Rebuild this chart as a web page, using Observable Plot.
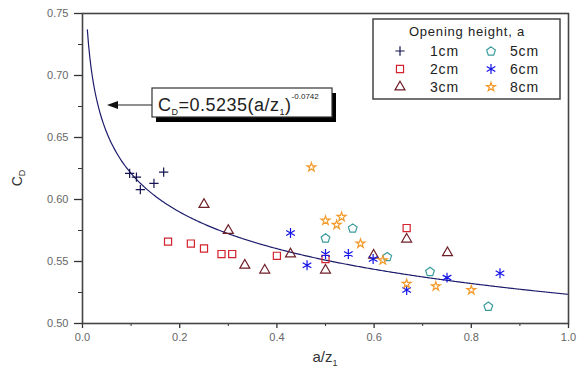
<!DOCTYPE html>
<html><head><meta charset="utf-8">
<script src="https://cdn.jsdelivr.net/npm/d3@7"></script>
<script src="https://cdn.jsdelivr.net/npm/@observablehq/plot@0.6"></script>
<style>
body{margin:0;background:#fff;}
#chart{position:relative;width:582px;height:373px;}
</style></head><body><div id="chart"></div>
<script>
// ---- data ----
const seriesNames = ["1cm", "2cm", "3cm", "5cm", "6cm", "8cm"];
const x1cm = [0.097, 0.111, 0.119, 0.147, 0.167];
const y1cm = [0.621, 0.618, 0.608, 0.613, 0.622];
const x2cm = [0.176, 0.223, 0.250, 0.286, 0.308, 0.400, 0.500, 0.667];
const y2cm = [0.566, 0.5645, 0.5605, 0.556, 0.556, 0.5546, 0.552, 0.577];
const x3cm = [0.250, 0.300, 0.334, 0.375, 0.428, 0.500, 0.599, 0.667, 0.751];
const y3cm = [0.596, 0.575, 0.547, 0.543, 0.556, 0.543, 0.555, 0.568, 0.557];
const x5cm = [0.500, 0.556, 0.627, 0.715, 0.835];
const y5cm = [0.569, 0.577, 0.554, 0.542, 0.514];
const x6cm = [0.428, 0.462, 0.500, 0.547, 0.598, 0.667, 0.750, 0.859];
const y6cm = [0.573, 0.547, 0.556, 0.556, 0.552, 0.527, 0.537, 0.5406];
const x8cm = [0.471, 0.500, 0.523, 0.533, 0.572, 0.618, 0.667, 0.727, 0.800];
const y8cm = [0.626, 0.583, 0.5796, 0.586, 0.5645, 0.551, 0.532, 0.530, 0.527];
// fitted curve printed on the chart: C_D = 0.5235 (a/z1)^-0.0742
const fitCoef = 0.5235, fitExp = -0.0742, fitStart = 0.01, fitEnd = 1.0;
const xTicksMajor = [0, 0.2, 0.4, 0.6, 0.8, 1.0];
const xTicksMinor = [0.1, 0.3, 0.5, 0.7, 0.9];
const yTicksMajor = [0.50, 0.55, 0.60, 0.65, 0.70, 0.75];
const yTicksMinor = [0.525, 0.575, 0.625, 0.675, 0.725];
const legendTitle = "Opening height, a";

// ---- build ----
const pentagon = {
  draw(context, size) {
    const r = Math.sqrt(size / 2.378);
    for (let i = 0; i < 5; i++) {
      const a = -Math.PI / 2 + i * 2 * Math.PI / 5;
      const px = r * Math.cos(a), py = r * Math.sin(a) + r * 0.1;
      if (i === 0) context.moveTo(px, py); else context.lineTo(px, py);
    }
    context.closePath();
  }
};
const styles = {
  "1cm": {symbol: "plus", color: "#141450", r: 3.1},
  "2cm": {symbol: "square", color: "#d2232e", r: 4},
  "3cm": {symbol: "triangle", color: "#6e1f28", r: 3.7},
  "5cm": {symbol: pentagon, color: "#3a9c9a", r: 4},
  "6cm": {symbol: "asterisk", color: "#1414e6", r: 4.7},
  "8cm": {symbol: "star", color: "#f39a2a", r: 2.8}
};
const xs = {"1cm": x1cm, "2cm": x2cm, "3cm": x3cm, "5cm": x5cm, "6cm": x6cm, "8cm": x8cm};
const ys = {"1cm": y1cm, "2cm": y2cm, "3cm": y3cm, "5cm": y5cm, "6cm": y6cm, "8cm": y8cm};
const points = seriesNames.flatMap(s => xs[s].map((x, i) => ({series: s, x, y: ys[s][i]})));
const fit = d3.range(fitStart, fitEnd + 1e-9, 0.0025).map(x => ({x, y: fitCoef * Math.pow(x, fitExp)}));

const font = "'Liberation Sans', Arial, sans-serif";
const plot = Plot.plot({
  width: 582, height: 373,
  marginLeft: 82, marginRight: 14, marginTop: 13, marginBottom: 50,
  x: {domain: [0, 1]},
  y: {domain: [0.5, 0.75]},
  style: {fontFamily: font, background: "#fff"},
  marks: [
    Plot.axisX(xTicksMajor, {tickSize: 5, tickPadding: 5, tickFormat: d => d.toFixed(1), fontSize: 11, fill: "#666", stroke: "#333", strokeWidth: 1.3, label: null}),
    Plot.axisX(xTicksMinor, {tickSize: 3, tickFormat: () => "", stroke: "#333", label: null}),
    Plot.axisY(yTicksMajor, {tickSize: 8, tickPadding: 6, tickFormat: d => d.toFixed(2), fontSize: 11, fill: "#666", stroke: "#333", strokeWidth: 1.3, label: null}),
    Plot.axisY(yTicksMinor, {tickSize: 4, tickFormat: () => "", stroke: "#333", label: null}),
    Plot.line(fit, {x: "x", y: "y", stroke: "#1c1c6c", strokeWidth: 1.2}),
    ...seriesNames.map(s => Plot.dot(points.filter(p => p.series === s), {
      x: "x", y: "y", symbol: styles[s].symbol, r: styles[s].r,
      stroke: styles[s].color, fill: "none", strokeWidth: 1.2
    })),
    Plot.frame({stroke: "#444", strokeWidth: 1.6})
  ]
});
document.getElementById("chart").appendChild(plot);

const svg = d3.select(plot);
const sx = plot.scale("x"), sy = plot.scale("y");

// axis titles
const yl = svg.append("text").attr("transform", "translate(22,178) rotate(-90)")
  .attr("font-family", font).attr("font-size", 14).attr("fill", "#333").attr("text-anchor", "middle");
yl.append("tspan").text("C");
yl.append("tspan").attr("font-size", 9).attr("dy", 3).text("D");
const xl = svg.append("text").attr("x", (sx.range[0] + sx.range[1]) / 2).attr("y", 362)
  .attr("font-family", font).attr("font-size", 15).attr("fill", "#333").attr("text-anchor", "middle");
xl.append("tspan").text("a/z");
xl.append("tspan").attr("font-size", 9).attr("dy", 4).text("1");

// annotation box with arrow
const ann = svg.append("g").attr("text-anchor", "start");
ann.append("rect").attr("x", 156).attr("y", 93).attr("width", 180).attr("height", 29).attr("fill", "#000");
ann.append("rect").attr("x", 152).attr("y", 88).attr("width", 180).attr("height", 29).attr("fill", "#fff").attr("stroke", "#333").attr("stroke-width", 1.2);
ann.append("line").attr("x1", 152).attr("x2", 116).attr("y1", 105).attr("y2", 105).attr("stroke", "#222").attr("stroke-width", 1.2);
ann.append("path").attr("d", "M107,105 L118,101 L118,109 Z").attr("fill", "#111");
const at = ann.append("text").attr("x", 158).attr("y", 111).attr("font-family", font).attr("text-anchor", "start")
  .attr("font-size", 18).attr("letter-spacing", 0.5).attr("fill", "#222");
at.append("tspan").text("C");
at.append("tspan").attr("font-size", 9).attr("dy", 4).text("D");
at.append("tspan").attr("dy", -4).text("=0.5235(a/z");
at.append("tspan").attr("font-size", 9).attr("dy", 4).text("1");
at.append("tspan").attr("dy", -4).text(")");
at.append("tspan").attr("font-size", 8).attr("letter-spacing", 0).attr("dy", -12).text("-0.0742");

// legend
const lg = svg.append("g").attr("text-anchor", "start");
lg.append("rect").attr("x", 373).attr("y", 19).attr("width", 187).attr("height", 80)
  .attr("fill", "#fff").attr("stroke", "#444").attr("stroke-width", 1.5);
lg.append("text").attr("x", 467).attr("y", 36).attr("text-anchor", "middle").attr("font-family", font)
  .attr("font-size", 13).attr("letter-spacing", 0.8).attr("fill", "#222").text(legendTitle);
const d3sym = {plus: d3.symbolPlus, square: d3.symbolSquare, triangle: d3.symbolTriangle, asterisk: d3.symbolAsterisk, star: d3.symbolStar};
seriesNames.forEach((s, i) => {
  const col = Math.floor(i / 3), row = i % 3;
  const cx = col === 0 ? 400 : 491, cy = 51 + row * 18;
  const st = styles[s];
  const type = typeof st.symbol === "string" ? d3sym[st.symbol] : st.symbol;
  lg.append("path").attr("transform", `translate(${cx},${cy})`)
    .attr("d", d3.symbol(type, Math.PI * st.r * st.r)())
    .attr("fill", "none").attr("stroke", st.color).attr("stroke-width", 1.2);
  lg.append("text").attr("x", col === 0 ? 430 : 510).attr("y", cy + 5).attr("font-family", font).attr("text-anchor", "start")
    .attr("font-size", 14).attr("letter-spacing", 0.8).attr("fill", "#222").text(s);
});
</script></body></html>
